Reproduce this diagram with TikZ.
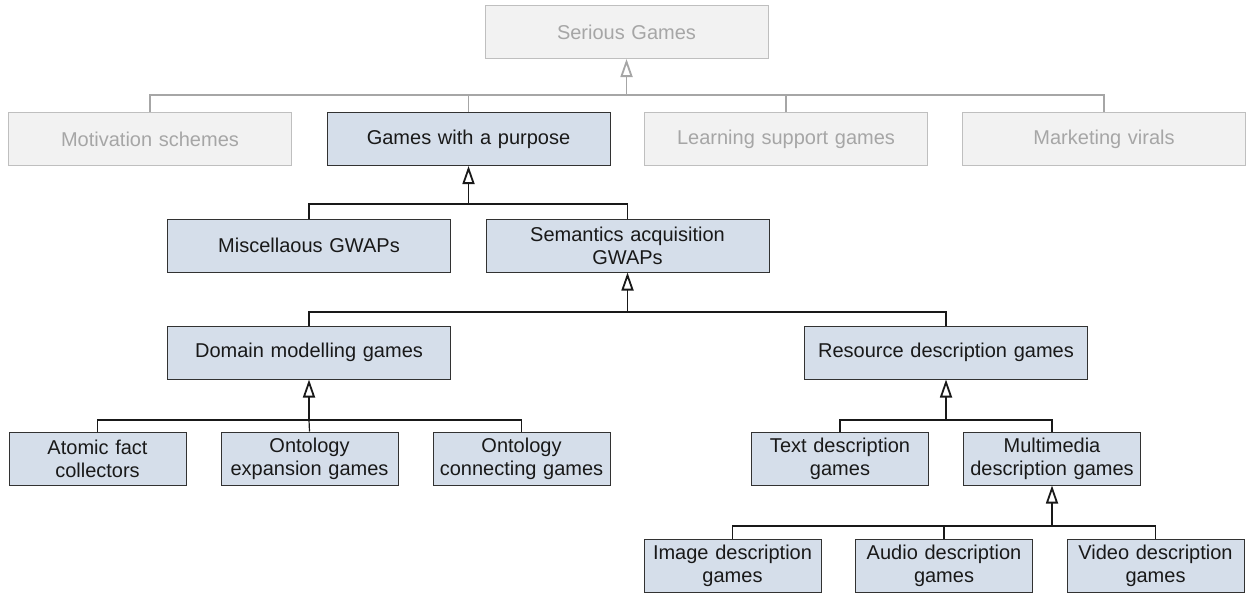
\documentclass[tikz,border=0pt]{standalone}
\usepackage{fontspec}
\setmainfont{Liberation Sans}
\usetikzlibrary{arrows.meta}
\definecolor{boxblue}{RGB}{213,222,234}
\definecolor{boxedge}{RGB}{50,50,50}
\definecolor{greyfill}{RGB}{242,242,242}
\definecolor{greyedge}{RGB}{191,191,191}
\definecolor{greytext}{RGB}{166,166,166}
\definecolor{greyline}{RGB}{166,166,166}
\tikzset{
  basebox/.style={rectangle, inner sep=0pt, align=center,
    minimum height=53pt, font=\fontsize{20}{23}\selectfont, line width=1pt},
  wide/.style={basebox, minimum width=283pt, text width=275pt},
  narrow/.style={basebox, minimum width=177pt, text width=172pt},
  activebox/.style={draw=boxedge, fill=boxblue, text=black!90},
  greybox/.style={draw=greyedge, fill=greyfill, text=greytext},
  link/.style={draw=black!90, line width=1.2pt},
  greylink/.style={draw=greyline, line width=1.2pt},
  uptip/.style={-{Triangle[length=18pt, width=12pt, fill=white]}, line width=1.8pt},
}
\begin{document}
\begin{tikzpicture}[x=1pt, y=-1pt]
\useasboundingbox (0,0) rectangle (1246,592);

% top level
\node[wide, greybox] (sg) at (626.5,32) {Serious Games};

% second level
\node[wide, greybox]   (mot)   at (150,139)   {Motivation schemes};
\node[wide, activebox] (gwap)  at (468.5,139) {Games with a purpose};
\node[wide, greybox]   (learn) at (786,139)   {Learning support games};
\node[wide, greybox]   (mkt)   at (1104,139)  {Marketing virals};

% GWAP categories
\node[wide, activebox] (misc) at (309,245.5)   {Miscellaous GWAPs};
\node[wide, activebox] (sem)  at (627.5,245.5) {Semantics acquisition\\GWAPs};

% semantics acquisition branches
\node[wide, activebox] (dom) at (309,352.5) {Domain modelling games};
\node[wide, activebox] (res) at (946,352.5) {Resource description games};

% domain modelling leaves
\node[narrow, activebox] (atom) at (97.5,458.5)  {Atomic fact\\collectors};
\node[narrow, activebox] (oexp) at (309.5,458.5) {Ontology\\expansion games};
\node[narrow, activebox] (ocon) at (521.5,458.5) {Ontology\\connecting games};

% resource description branches
\node[narrow, activebox] (txt)   at (840,458.5)  {Text description\\games};
\node[narrow, activebox] (multi) at (1052,458.5) {Multimedia\\description games};

% multimedia leaves
\node[narrow, activebox] (img) at (732.5,566)  {Image description\\games};
\node[narrow, activebox] (aud) at (944,566)    {Audio description\\games};
\node[narrow, activebox] (vid) at (1155.5,566) {Video description\\games};

% junction points of the tree bars
\coordinate (j0) at (626.5,95);
\coordinate (j1) at (468.5,204);
\coordinate (j2) at (627.5,312);
\coordinate (j3) at (309,420);
\coordinate (j4) at (946,420);
\coordinate (j5) at (1052,526);

% serious games family
\draw[greylink] (mot.north) |- (j0) -| (mkt.north);
\draw[greylink] (gwap.north) |- (j0);
\draw[greylink] (learn.north) |- (j0);
\draw[greylink, uptip, draw=greyline] (j0) -- (sg.south);

% games with a purpose
\draw[link] (misc.north) |- (j1) -| (sem.north);
\draw[link, uptip] (j1) -- (gwap.south);

% semantics acquisition
\draw[link] (dom.north) |- (j2) -| (res.north);
\draw[link, uptip] (j2) -- (sem.south);

% domain modelling
\draw[link] (atom.north) |- (j3) -| (ocon.north);
\draw[link] (oexp.north) -- (j3);
\draw[link, uptip] (j3) -- (dom.south);

% resource description
\draw[link] (txt.north) |- (j4) -| (multi.north);
\draw[link, uptip] (j4) -- (res.south);

% multimedia description
\draw[link] (img.north) |- (j5) -| (vid.north);
\draw[link] (aud.north) -- (aud.north |- j5);
\draw[link, uptip] (j5) -- (multi.south);
\end{tikzpicture}
\end{document}
